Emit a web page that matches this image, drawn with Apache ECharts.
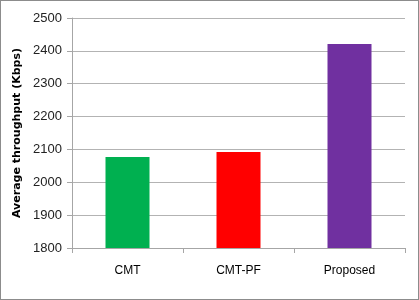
<!DOCTYPE html>
<html>
<head>
<meta charset="utf-8">
<script src="https://cdn.jsdelivr.net/npm/echarts@6/dist/echarts.min.js"></script>
<style>
  html, body { margin: 0; padding: 0; background: #fff; }
  #chart { width: 419px; height: 300px; box-sizing: border-box; border: 1px solid #8c8c8c; }
</style>
</head>
<body>
<div id="chart"></div>
<script>
// 数据
var categories = ['CMT', 'CMT-PF', 'Proposed'];
var throughput = [2077, 2092, 2421];
var barColors = ['#00b050', '#ff0000', '#7030a0'];
var yTicks = { min: 1800, max: 2500, interval: 100 };

var myChart = echarts.init(document.getElementById('chart'));

var option = {
    animation: false,
    grid: { left: 71, right: 13, top: 17, bottom: 51 },
    xAxis: {
        type: 'category',
        data: categories,
        axisLine: { lineStyle: { color: '#a6a6a6' } },
        axisTick: { show: true, alignWithLabel: false, length: 5, lineStyle: { color: '#a6a6a6' } },
        axisLabel: { color: '#000', fontSize: 12, fontFamily: 'Liberation Sans', margin: 17 }
    },
    yAxis: {
        type: 'value',
        min: yTicks.min,
        max: yTicks.max,
        interval: yTicks.interval,
        name: 'Average throughput (Kbps)',
        nameLocation: 'middle',
        nameGap: 36,
        nameTextStyle: { color: '#000', fontSize: 11, fontWeight: 'bold', fontFamily: 'DejaVu Sans' },
        axisLine: { show: true, lineStyle: { color: '#a6a6a6' } },
        axisTick: { show: true, length: 5, lineStyle: { color: '#a6a6a6' } },
        axisLabel: {
            color: '#222', fontSize: 13, fontFamily: 'Liberation Sans', margin: 10,
            formatter: function (v) { return String(v); }
        },
        splitLine: { lineStyle: { color: '#b3b3b3' } }
    },
    series: [
        {
            type: 'bar',
            barWidth: 44,
            data: throughput.map(function (v, i) {
                return { value: v, itemStyle: { color: barColors[i] } };
            })
        }
    ]
};

myChart.setOption(option);
</script>
</body>
</html>
